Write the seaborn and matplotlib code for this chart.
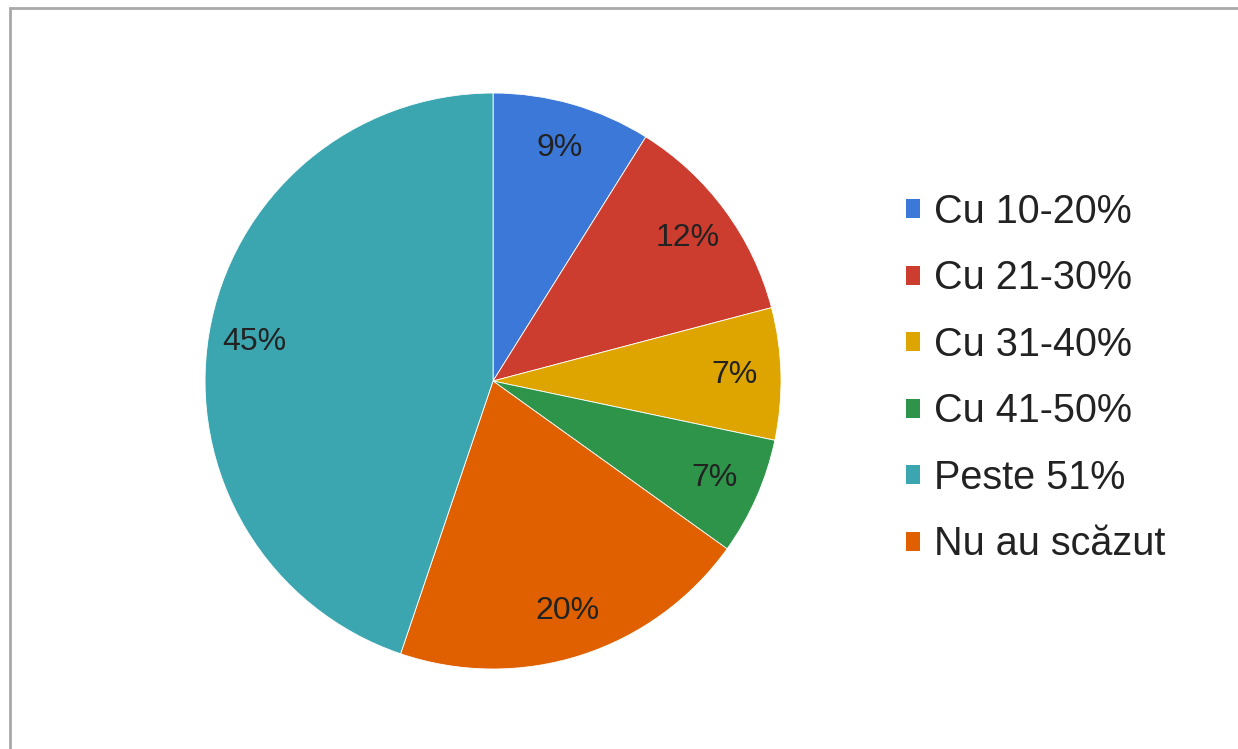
import matplotlib
matplotlib.use("Agg")
import matplotlib.pyplot as plt
import seaborn as sns
from matplotlib.patches import Patch, Rectangle

# slices in drawing order (clockwise from top)
pie_labels = ["Cu 10-20%", "Cu 21-30%", "Cu 31-40%", "Cu 41-50%", "Nu au scăzut", "Peste 51%"]
pie_values = [8.9, 12.0, 7.4, 6.6, 20.3, 44.8]
pie_colors = ["#3c78d8", "#cc3d2f", "#dea500", "#2e9449", "#e06000", "#3ca6b0"]

# legend order as shown in the chart
legend_order = ["Cu 10-20%", "Cu 21-30%", "Cu 31-40%", "Cu 41-50%", "Peste 51%", "Nu au scăzut"]

sns.set_theme(style="white")
plt.rcParams["font.family"] = ["Liberation Sans", "DejaVu Sans"]

fig = plt.figure(figsize=(12.38, 7.49), dpi=100)
fig.patch.set_facecolor("white")

# grey frame of the original chart (cropped at right and bottom)
fig.patches.append(Rectangle((10 / 1238, -0.05), 1.1, 1 - 8 / 749 + 0.05,
                             transform=fig.transFigure, fill=False,
                             edgecolor="#a8a8a8", linewidth=2))

ax = fig.add_axes([0.1656, 0.1068, 0.4653, 0.769])
palette = sns.color_palette(pie_colors)
wedges, texts, autotexts = ax.pie(
    pie_values, colors=palette, startangle=90, counterclock=False,
    autopct="%.0f%%", pctdistance=0.84,
    wedgeprops=dict(edgecolor="white", linewidth=0.6),
    textprops=dict(fontsize=23, color="#222222"))
ax.set_xlim(-1, 1)
ax.set_ylim(-1, 1)
ax.set_aspect("equal")

color_map = dict(zip(pie_labels, pie_colors))
handles = [Patch(facecolor=color_map[l], edgecolor="none", label=l) for l in legend_order]
fig.legend(handles=handles, loc="upper left", bbox_to_anchor=(0.7155, 0.769),
           frameon=False, fontsize=28.5, borderpad=0, handlelength=0.36,
           handleheight=0.36, handletextpad=0.35, labelspacing=0.72,
           labelcolor="#222222")

fig.savefig("out.png", dpi=100)
